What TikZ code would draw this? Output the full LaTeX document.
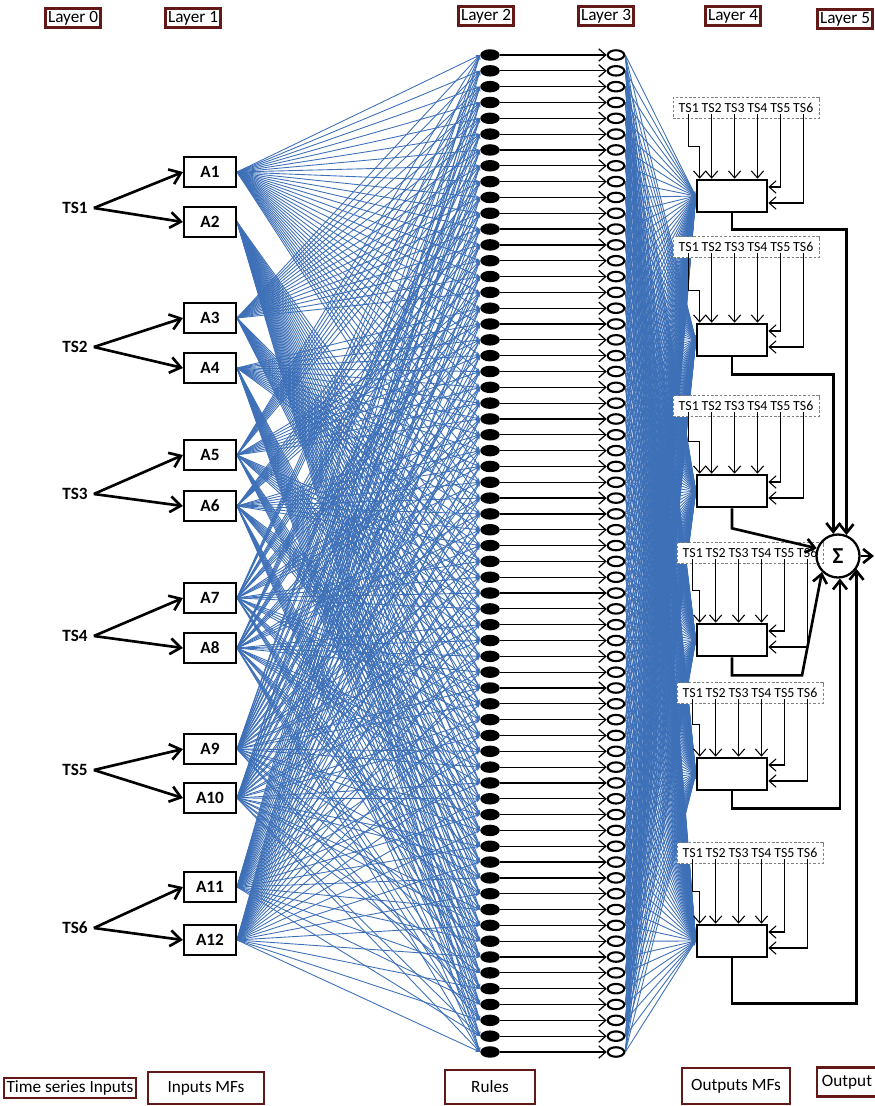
\documentclass[tikz,border=0pt]{standalone}
\usepackage{fontspec}
\setmainfont{Carlito}
\usetikzlibrary{arrows.meta,calc,shapes.geometric,backgrounds}

\definecolor{linkblue}{RGB}{62,112,184}
\definecolor{framered}{RGB}{100,25,25}

\begin{document}
\begin{tikzpicture}[x=0.02cm,y=-0.02cm,
    layerbox/.style={draw=framered, line width=1.3pt, inner sep=1.5pt, font=\fontsize{9.8}{11}\selectfont},
    mfbox/.style={draw, line width=1.2pt, minimum width=1.04cm, minimum height=0.6cm, font=\bfseries\fontsize{9.8}{11}\selectfont},
    tslabel/.style={font=\bfseries\fontsize{9.8}{11}\selectfont},
    rulenode/.style={ellipse, fill=black, minimum width=0.39cm, minimum height=0.23cm, inner sep=0pt},
    normnode/.style={ellipse, draw, line width=1.2pt, minimum width=0.33cm, minimum height=0.19cm, inner sep=0pt},
    outbox/.style={draw, line width=1.5pt, minimum width=1.4cm, minimum height=0.64cm},
    hdrbox/.style={draw=gray, dash pattern=on 1.5pt off 1pt, fill=white, minimum width=2.92cm, minimum height=0.42cm},
    hdrword/.style={inner sep=0.5pt, font=\fontsize{7.9}{9}\selectfont},
    link/.style={linkblue, line width=0.5pt, -{Stealth[length=2.5pt,width=2pt]}},
    tsarrow/.style={line width=1.5pt, -{Straight Barb[length=6pt,width=9pt]}},
    rulearrow/.style={line width=0.7pt, -{Straight Barb[length=4pt,width=7pt]}},
    mfarrow/.style={line width=0.6pt, -{Straight Barb[length=4pt,width=7pt]}},
    sumarrow/.style={line width=1.5pt, -{Straight Barb[length=5pt,width=8pt]}}
]
\useasboundingbox (0,0) rectangle (875,1106);

% Layer titles
\node[layerbox] (lay0) at (73,18) {Layer 0};
\node[layerbox] (lay1) at (193,18) {Layer 1};
\node[layerbox] (lay2) at (486,16) {Layer 2};
\node[layerbox] (lay3) at (606,16) {Layer 3};
\node[layerbox] (lay4) at (733,16) {Layer 4};
\node[layerbox] (lay5) at (845,19) {Layer 5};

% Captions at the bottom
\node[layerbox] (capts) at (70,1088) {Time series Inputs};
\node[layerbox, minimum width=2.32cm, minimum height=0.64cm] (capmf) at (206,1088) {Inputs MFs};
\node[layerbox, minimum width=1.8cm, minimum height=0.68cm] (caprule) at (490,1087) {Rules};
\node[layerbox, minimum width=2.16cm, minimum height=0.72cm] (capout) at (736,1086) {Outputs MFs};
\node[layerbox, minimum width=1.2cm, minimum height=0.58cm] (capres) at (847,1082) {Output};

% Time series inputs and input MFs
\foreach \k/\y in {1/208, 2/347, 3/494, 4/636, 5/770, 6/928}
    \node[tslabel] (ts\k) at (75,\y) {TS\k};
\foreach \k/\y in {1/172, 2/222, 3/318, 4/368, 5/455, 6/506, 7/598, 8/648, 9/749, 10/798, 11/887, 12/940}
    \node[mfbox] (a\k) at (210,\y) {A\k};
\foreach \k in {1,...,6} {
    \pgfmathtruncatemacro\m{2*\k-1}
    \pgfmathtruncatemacro\p{2*\k}
    \draw[tsarrow] (ts\k.east) -- (a\m.west);
    \draw[tsarrow] (ts\k.east) -- (a\p.west);
}

% Rules and normalisation
\foreach \i in {1,...,64} {
    \pgfmathsetmacro\y{55+(\i-1)*15.825}
    \node[rulenode] (r\i) at (490,\y) {};
    \node[normnode] (c\i) at (616,\y) {};
    \draw[rulearrow] (r\i) -- (c\i);
}

% Output MFs with their inputs
\foreach \n/\y/\hx/\hy in {1/196/746/108, 2/340/746/247, 3/491/746/406, 4/640/750/553, 5/774/750/693, 6/941/750/853} {
    \node[outbox] (o\n) at (732,\y) {};
    \node[hdrbox] (h\n) at (\hx,\hy) {};
    \foreach \k in {1,...,6}
        \node[hdrword] (h\n-\k) at ([xshift={(\k-3.5)*0.458cm}]h\n.center) {TS\k};
    \draw[mfarrow] (h\n-1.south) |- ($(o\n.north west)+(4,-32)$) -- ($(o\n.north west)+(4,0)$);
    \foreach \k in {2,3,4}
        \draw[mfarrow] (h\n-\k.south) -- (h\n-\k.south |- o\n.north);
    \draw[mfarrow] (h\n-5.south) |- ($(o\n.east)+(0,-9)$);
    \draw[mfarrow] (h\n-6.south) |- ($(o\n.east)+(0,7)$);
}

% Sum
\node[circle, draw, line width=1.3pt, minimum size=0.86cm, inner sep=0pt, font=\bfseries\fontsize{13}{14}\selectfont] (sum) at (838,556) {Σ};
\coordinate (out) at (874,556);
\draw[sumarrow] (sum) -- (out);
\draw[sumarrow] (o1.south) -- ++(0,16) -| (sum.68);
\draw[sumarrow] (o2.south) -- ++(0,17) -| (sum.102);
\draw[sumarrow] (o3.south) -- ++(0,20) -- (sum.160);
\draw[sumarrow] (o4.south) -- ++(0,18) -- ++(70,0) -- (sum.225);
\draw[sumarrow] (o5.south) -- ++(0,17) -| (sum.275);
\draw[sumarrow] (o6.south) -- ++(0,45) -| (sum.325);

% Links (blue)
\begin{scope}[on background layer]
    \foreach \i in {1,...,64} {
        \foreach \k in {1,...,6} {
            \pgfmathtruncatemacro\bit{mod(floor((\i-1)/2^(6-\k)),2)}
            \pgfmathtruncatemacro\m{2*\k-1+\bit}
            \draw[link] (a\m.east) -- (r\i.west);
        }
        \foreach \n in {1,...,6}
            \draw[link] (c\i.east) -- (o\n.west);
    }
\end{scope}
\end{tikzpicture}
\end{document}
